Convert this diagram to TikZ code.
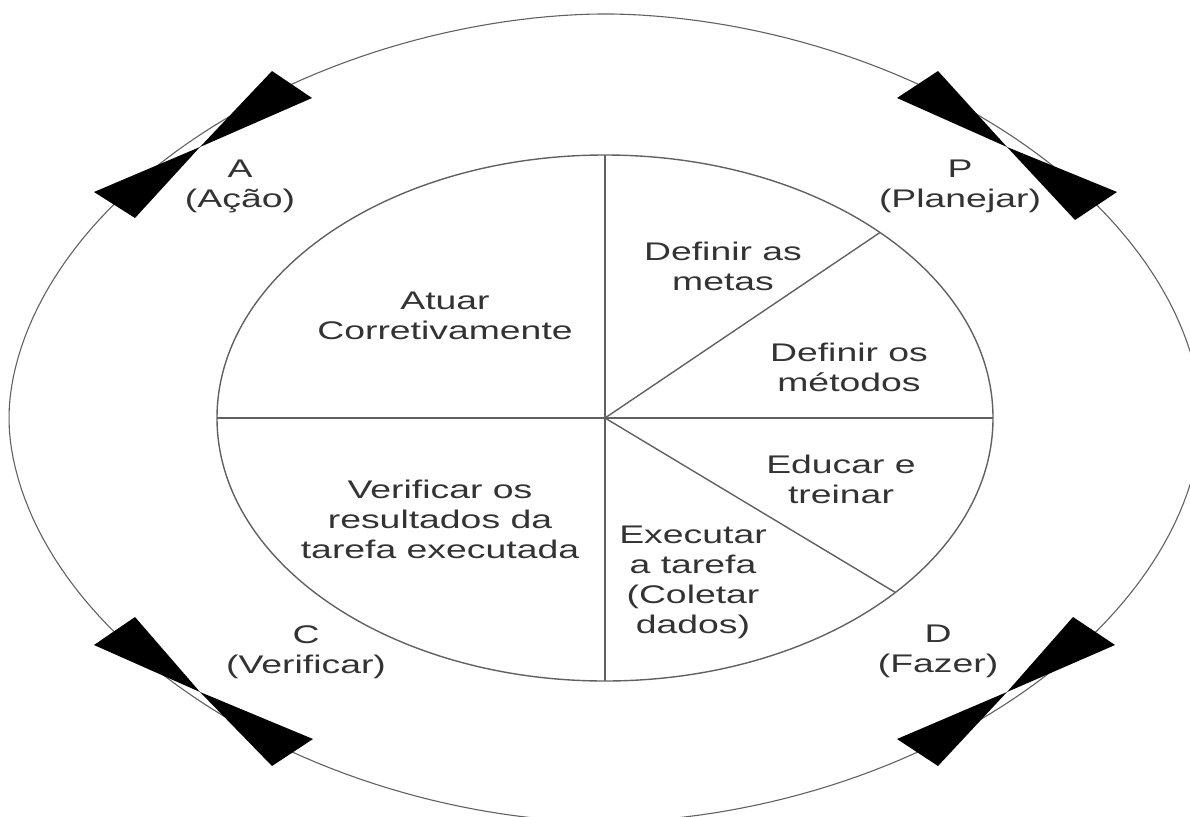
\documentclass[tikz,border=0pt]{standalone}
\usepackage{fontspec}
\setmainfont{Liberation Sans}
\usetikzlibrary{shapes.geometric}
\definecolor{txt}{rgb}{0.2,0.2,0.2}
\definecolor{ln}{rgb}{0.38,0.38,0.38}
\tikzset{
  lbl/.style={font=\fontsize{25.5}{30}\selectfont, align=center, inner sep=0pt,
    text=txt, xscale=1.465, anchor=north},
  divider/.style={draw=ln, line width=1.4pt},
  bowtie/.style={fill=black}
}
\begin{document}
\begin{tikzpicture}[x=1pt,y=-1pt]
\useasboundingbox (0,0) rectangle (1190,816);
\clip (0,0) rectangle (1190,816);
% outer ring
\draw[draw=ln, line width=1.1pt] plot[domain=0:360, samples=240]
  ({605+596*cos(\x)*pow(abs(cos(\x))+0.00001,0.07)},
   {418+404*sin(\x)*pow(abs(sin(\x))+0.00001,0.07)}) -- cycle;
% inner ellipse
\node[ellipse, draw=ln, line width=1.4pt, minimum width=776pt, minimum height=526pt,
  inner sep=0pt, outer sep=0pt] (inner) at (605,418) {};
\coordinate (c) at (inner.center);
\draw[divider] (inner.north) -- (inner.south);
\draw[divider] (inner.west) -- (inner.east);
\draw[divider] (c) -- (inner.34.5);
\draw[divider] (c) -- (inner.-31.5);
% bow ties
\fill[bowtie] (200,147) -- (272,71) -- (312,98) -- cycle;
\fill[bowtie] (200,147) -- (94,192) -- (135,218) -- cycle;
\fill[bowtie] (1007,147) -- (897,98) -- (938,71) -- cycle;
\fill[bowtie] (1007,147) -- (1075,220) -- (1117,192) -- cycle;
\fill[bowtie] (200,692) -- (94,645) -- (135,617) -- cycle;
\fill[bowtie] (200,692) -- (272,766) -- (313,739) -- cycle;
\fill[bowtie] (1007,692) -- (1073,617) -- (1115,645) -- cycle;
\fill[bowtie] (1007,692) -- (897,739) -- (938,766) -- cycle;
% sector labels
\node[lbl] (act) at (445,292) {Atuar\\Corretivamente};
\node[lbl] (metas) at (723,242) {Definir as\\metas};
\node[lbl] (metodos) at (849,343) {Definir os\\métodos};
\node[lbl] (educ) at (841,455) {Educar e\\treinar};
\node[lbl] (exec) at (693,526) {Executar\\a tarefa\\(Coletar\\dados)};
\node[lbl] (verif) at (440,480) {Verificar os\\resultados da\\tarefa executada};
% phase labels
\node[lbl] (A) at (240,160) {A\\(Ação)};
\node[lbl] (P) at (960,160) {P\\(Planejar)};
\node[lbl] (C) at (306,625) {C\\(Verificar)};
\node[lbl] (D) at (938,625) {D\\(Fazer)};
\end{tikzpicture}
\end{document}
